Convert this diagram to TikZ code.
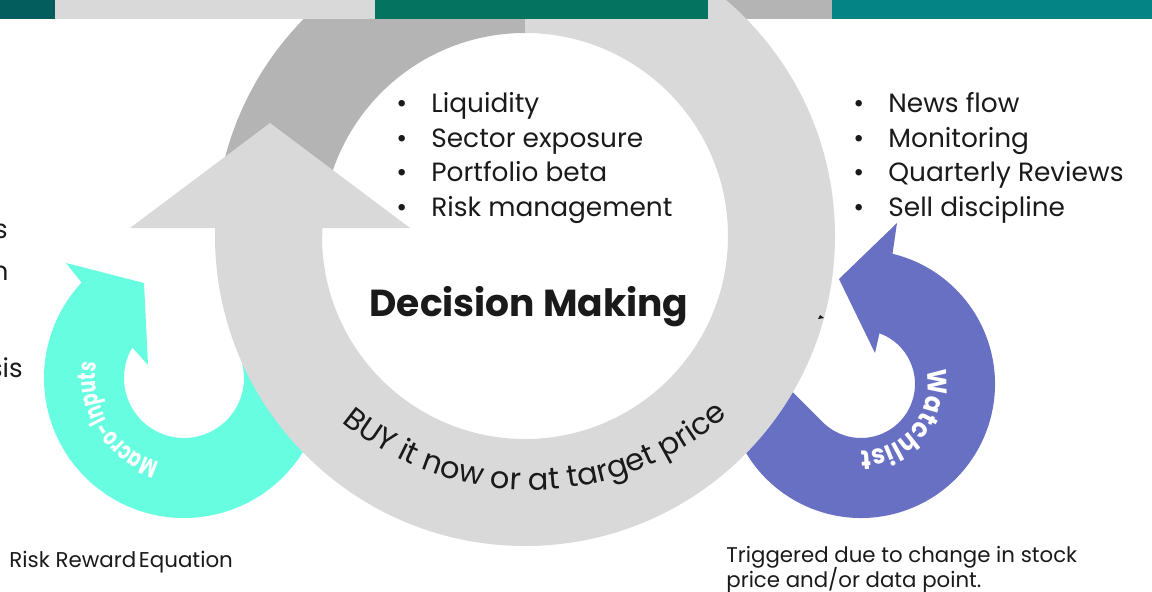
\documentclass[tikz,border=0pt]{standalone}
\usepackage{fontspec}
\setmainfont{Poppins}
\newfontfamily\watchfamily{Poppins}[FakeStretch=0.9]
\newfontfamily\macrofamily{Poppins}[FakeStretch=0.72]
\usetikzlibrary{calc,decorations.text}
\definecolor{ringlight}{HTML}{D9D9D9}
\definecolor{ringdark}{HTML}{B4B4B4}
\definecolor{macroteal}{HTML}{66FDE0}
\definecolor{watchblue}{HTML}{6870C4}
\definecolor{barteal}{HTML}{035D5D}
\definecolor{bargreen}{HTML}{047461}
\definecolor{barcyan}{HTML}{048484}
\definecolor{textcol}{HTML}{1A1A1A}
\newcommand\watchfont{\watchfamily\fontsize{13.5}{13.5}\selectfont\bfseries}
\newcommand\macrofont{\macrofamily\fontsize{12.5}{12.5}\selectfont\bfseries}
\newcommand\buyfont{\fontsize{15.2}{15.2}\selectfont}

\begin{document}
\begin{tikzpicture}[x=0.5pt,y=0.5pt]
	\tikzstyle{listtext}=[anchor=north west, inner sep=0pt, text=textcol, font=\fontsize{13.2}{17.25}\selectfont]
	\tikzstyle{plaintext}=[anchor=base west, inner sep=0pt, text=textcol]
	\useasboundingbox (0,0) rectangle (1152,591);
	\clip (0,0) rectangle (1152,591);
	\coordinate (C) at (525,355);
	\coordinate (B) at (531,398);
	\coordinate (T) at (184,213);
	\coordinate (W) at (861,207);
	\fill[ringdark] (708,572) rectangle (832,591);
	\fill[macroteal] (66,328) -- (144,308) -- (148,226) -- ($(T)+(149.5:60)$) arc[start angle=149.5, end angle=370, radius=60] -- ++(100:60) -- ($(T)+(-30:140)+(60:60)$) -- ($(T)+(-30:140)$) arc[start angle=-30, end angle=-223, radius=140] -- cycle;
	\fill[watchblue] (897,368) -- (839,312) -- (875,238) -- ($(W)+(70:54)$) arc[start angle=70, end angle=-135, radius=54] -- ++(135:80) -- ($(W)+(-160:134)+(110:30)$) -- ($(W)+(-160:134)$) arc[start angle=-160, end angle=76.4, radius=134] -- cycle;
	\fill[ringdark] ($(C)+(90:310)$) arc[start angle=90, end angle=180, radius=310] -- ($(C)+(180:203)$) arc[start angle=180, end angle=90, radius=203] -- cycle;
	\fill[ringlight] ($(C)+(90:310)$) arc[start angle=90, end angle=-180, radius=310] -- (215,363) -- (130,363) -- (270,468) -- (410,363) -- (322,363) -- (322,355) arc[start angle=-180, end angle=90, radius=203] -- cycle;
	\fill[barteal] (0,572) rectangle (55,591);
	\fill[ringlight] (55,572) rectangle (375,591);
	\fill[bargreen] (375,572) rectangle (708,591);
	\fill[barcyan] (832,572) rectangle (1152,591);
	\fill[textcol] (818,272) -- (820,276) -- (824,273) -- cycle;
	\path[decorate, decoration={text along path, text align=center, text color=textcol, text={|\buyfont|BUY it now or at target price}}] ($(B)+(222:297)$) arc[start angle=222, end angle=320, radius=297];
	\path[decorate, decoration={text along path, text align=center, text color=white, text={|\watchfont|Watchlist}}] ($(W)+(33:67)$) arc[start angle=33, end angle=-111, radius=67];
	\path[decorate, decoration={text along path, text align=center, text color=white, text={|\macrofont|Macro-Inputs}}] ($(T)+(277:88)$) arc[start angle=277, end angle=147, radius=88];
	\node[listtext] (dmlist) at (396,503) {\begin{tabular}{@{}p{17.5pt}@{}l@{}}\textbullet&Liquidity\\\textbullet&Sector exposure\\\textbullet&Portfolio beta\\\textbullet&Risk management\end{tabular}};
	\node[listtext] (wllist) at (853,503) {\begin{tabular}{@{}p{17.5pt}@{}l@{}}\textbullet&News flow\\\textbullet&Monitoring\\\textbullet&Quarterly Reviews\\\textbullet&Sell discipline\end{tabular}};
	\node[anchor=base, inner sep=0pt, text=textcol, font=\fontsize{18.8}{18.8}\selectfont\bfseries] (decision) at (529,275) {Decision Making};
	\node[plaintext, font=\fontsize{10.7}{12}\selectfont] (riskreward) at (9,24) {Risk Reward\hspace{0.12em}Equation};
	\node[plaintext, font=\fontsize{10.65}{12}\selectfont] (trigger) at (726,29) {Triggered due to change in stock};
	\node[plaintext, font=\fontsize{10.65}{12}\selectfont] (triggerb) at (726,3.5) {price and/or data point.};
	\node[plaintext, anchor=base east, font=\fontsize{13}{13}\selectfont] (cuta) at (8,353) {s};
	\node[plaintext, anchor=base east, font=\fontsize{13}{13}\selectfont] (cutb) at (9,311) {n};
	\node[plaintext, anchor=base east, font=\fontsize{13}{13}\selectfont] (cutc) at (23,214) {sis};
\end{tikzpicture}
\end{document}
